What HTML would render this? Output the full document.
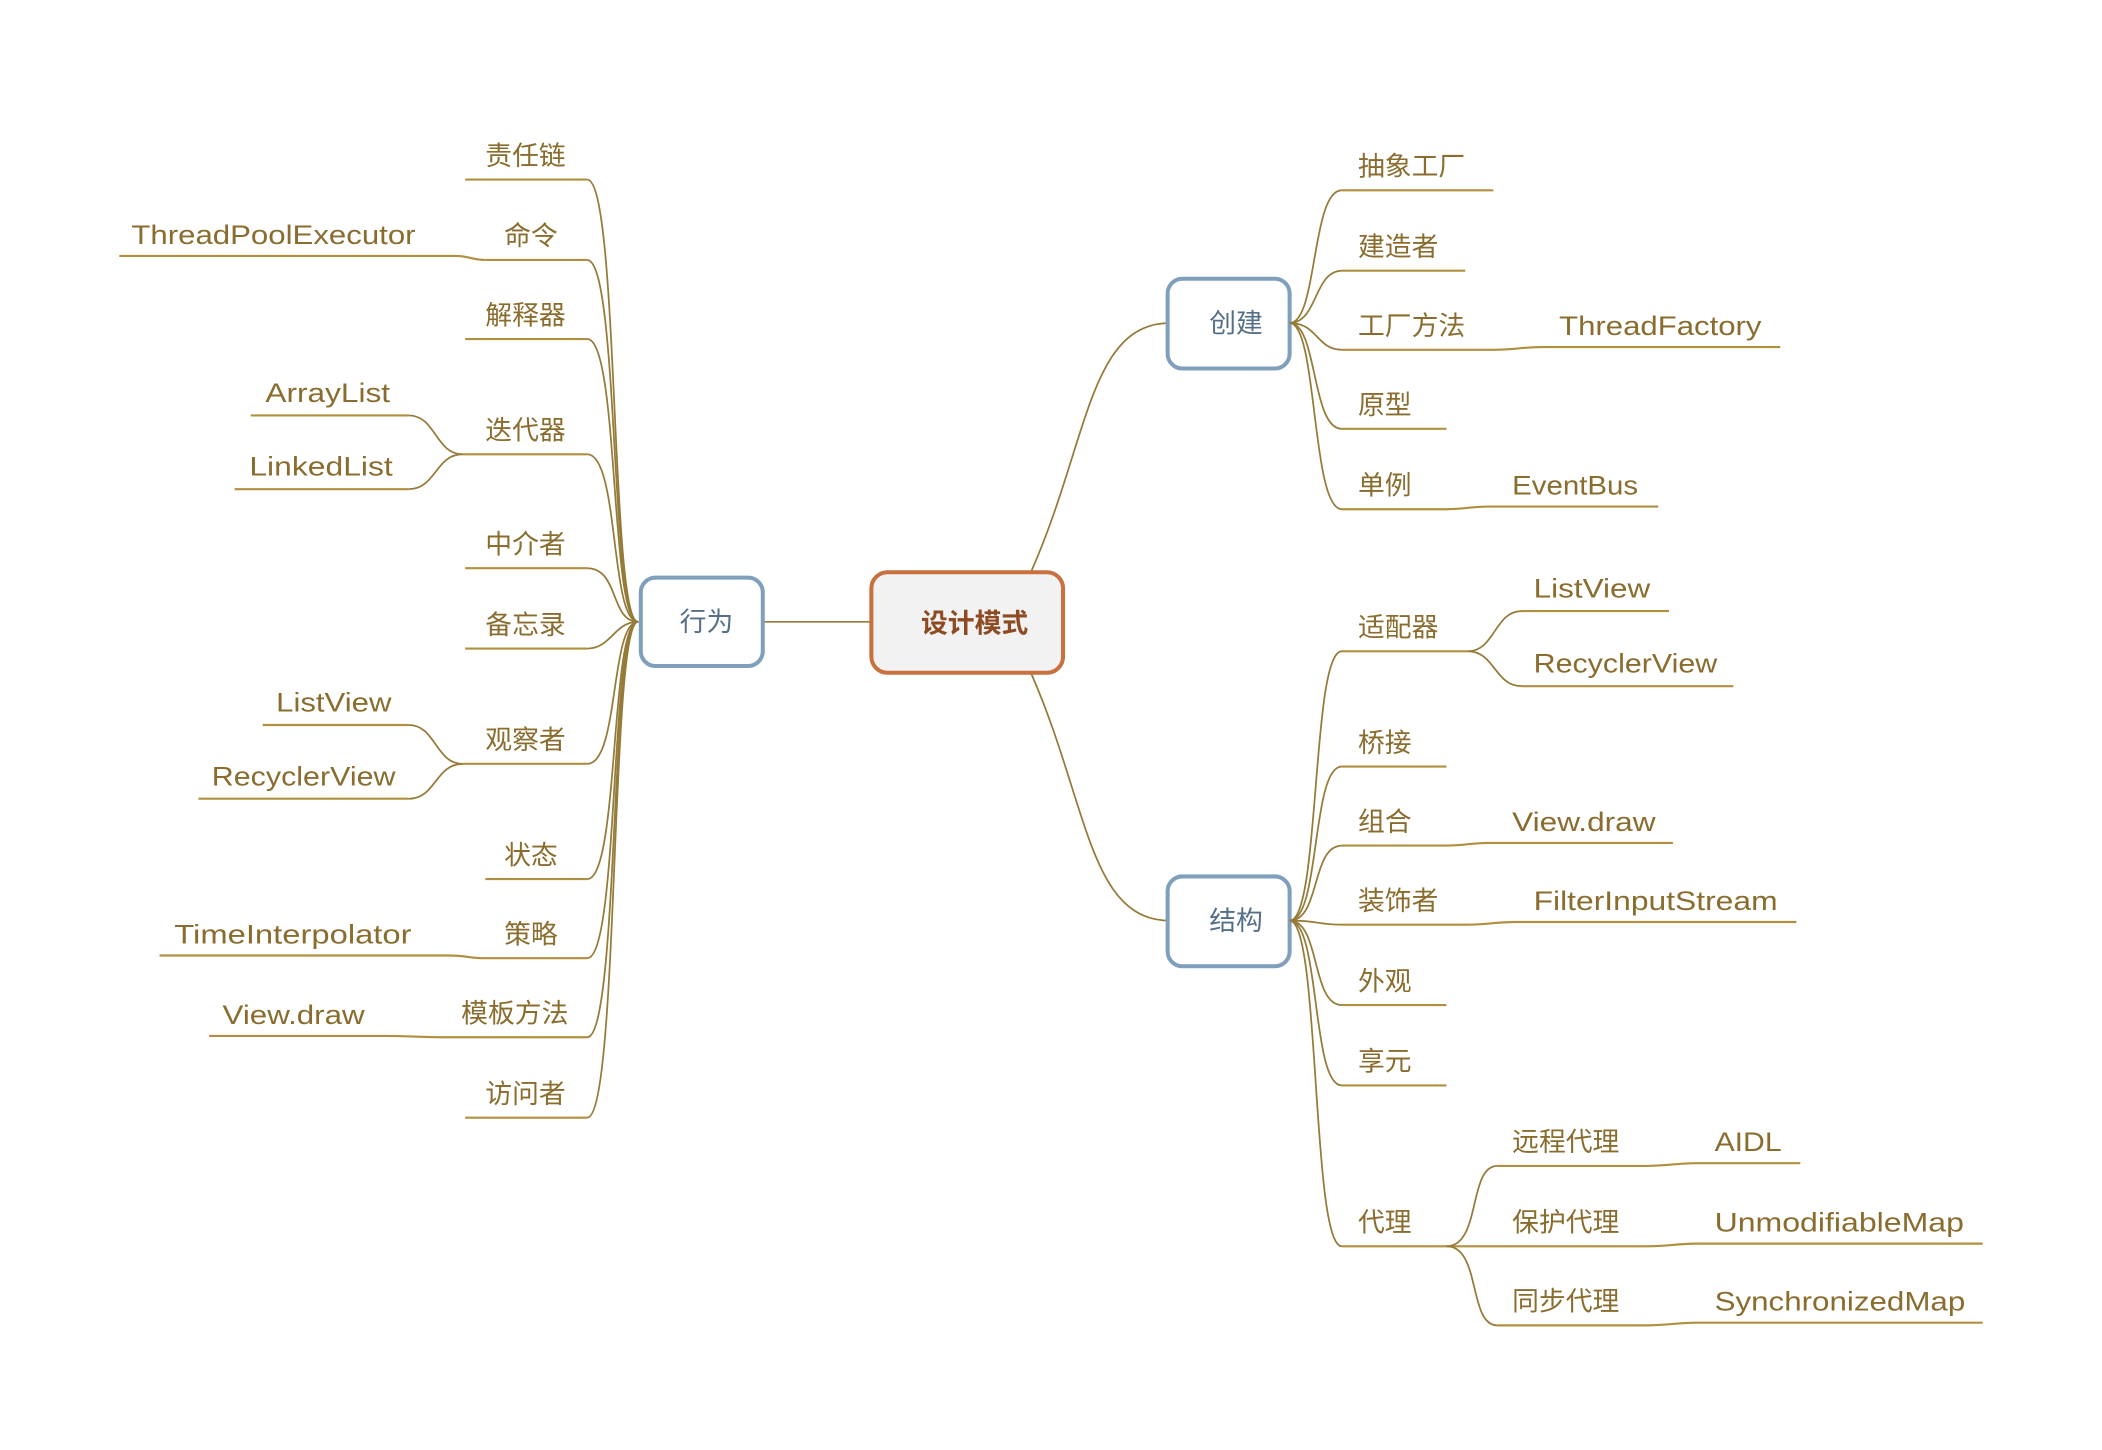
<!DOCTYPE html>
<html><head><meta charset="utf-8">
<style>
html,body{margin:0;padding:0;background:#fff;}
svg{display:block;}
text{font-family:"Liberation Sans","Noto Sans CJK SC",sans-serif;font-size:20px;fill:#8a6d2e;}
.ul{stroke:#b0903f;stroke-width:1.6;fill:none;}
.c{stroke:#957a38;stroke-width:1.3;fill:none;}
</style></head>
<body>
<svg width="2102" height="1450" viewBox="0 0 1568 1082" preserveAspectRatio="none" xmlns="http://www.w3.org/2000/svg">
<path class="c" d="M569,464 L650,464"/>
<path class="c" d="M769,427 C812,330 812,241 873,241"/>
<path class="c" d="M769,502 C812,600 812,687 873,687"/>

<g>
<path class="c" d="M476,464 C455,464 462,134 438,134"/>
<path class="c" d="M476,464 C455,464 462,194 438,194"/>
<path class="c" d="M476,464 C455,464 462,253 438,253"/>
<path class="c" d="M476,464 C455,464 462,339 438,339"/>
<path class="c" d="M476,464 C455,464 462,424 438,424"/>
<path class="c" d="M476,464 C458,464 456,484 438,484"/>
<path class="c" d="M476,464 C455,464 462,570 438,570"/>
<path class="c" d="M476,464 C455,464 462,656 438,656"/>
<path class="c" d="M476,464 C455,464 462,715 438,715"/>
<path class="c" d="M476,464 C455,464 462,774 438,774"/>
<path class="c" d="M476,464 C455,464 462,834 438,834"/>
</g>
<path class="ul" d="M347,134 H438"/><text x="422" y="123" text-anchor="end">责任链</text>
<path class="ul" d="M362,194 H438"/><text x="416" y="183" text-anchor="end">命令</text>
<path class="ul" d="M89,191 H340 C350,191 352,194 362,194"/><text x="98" y="182" textLength="212" lengthAdjust="spacingAndGlyphs">ThreadPoolExecutor</text>
<path class="ul" d="M347,253 H438"/><text x="422" y="242" text-anchor="end">解释器</text>
<path class="ul" d="M345,339 H438"/><text x="422" y="328" text-anchor="end">迭代器</text>
<path class="ul" d="M187,310 H305"/><path class="c" d="M305,310 C325,310 325,339 345,339"/><text x="198" y="300" textLength="93" lengthAdjust="spacingAndGlyphs">ArrayList</text>
<path class="ul" d="M175,365 H305"/><path class="c" d="M305,365 C325,365 325,339 345,339"/><text x="186" y="355" textLength="107" lengthAdjust="spacingAndGlyphs">LinkedList</text>
<path class="ul" d="M347,424 H438"/><text x="422" y="413" text-anchor="end">中介者</text>
<path class="ul" d="M347,484 H438"/><text x="422" y="473" text-anchor="end">备忘录</text>
<path class="ul" d="M345,570 H438"/><text x="422" y="559" text-anchor="end">观察者</text>
<path class="ul" d="M196,541 H305"/><path class="c" d="M305,541 C325,541 325,570 345,570"/><text x="206" y="531" textLength="86" lengthAdjust="spacingAndGlyphs">ListView</text>
<path class="ul" d="M148,596 H305"/><path class="c" d="M305,596 C325,596 325,570 345,570"/><text x="158" y="586" textLength="137" lengthAdjust="spacingAndGlyphs">RecyclerView</text>
<path class="ul" d="M362,656 H438"/><text x="416" y="645" text-anchor="end">状态</text>
<path class="ul" d="M362,715 H438"/><text x="416" y="704" text-anchor="end">策略</text>
<path class="ul" d="M119,713 H335 C348,713 350,715 362,715"/><text x="130" y="704" textLength="177" lengthAdjust="spacingAndGlyphs">TimeInterpolator</text>
<path class="ul" d="M330,774 H438"/><text x="424" y="763" text-anchor="end">模板方法</text>
<path class="ul" d="M156,773 H287 C305,773 312,774 330,774"/><text x="166" y="764" textLength="106" lengthAdjust="spacingAndGlyphs">View.draw</text>
<path class="ul" d="M347,834 H438"/><text x="422" y="823" text-anchor="end">访问者</text>

<rect x="478" y="431" width="91" height="66" rx="11" fill="#fff" stroke="#7f9fbd" stroke-width="3"/>
<text x="527" y="471" text-anchor="middle" style="fill:#566f88">行为</text>
<rect x="650" y="427" width="143" height="75" rx="12" fill="#f2f2f2" stroke="#c8703e" stroke-width="3"/>
<text x="727" y="472" text-anchor="middle" style="fill:#8e4a22;font-weight:bold">设计模式</text>
<rect x="871" y="208" width="91" height="67" rx="11" fill="#fff" stroke="#7f9fbd" stroke-width="3"/>
<text x="922" y="248" text-anchor="middle" style="fill:#566f88">创建</text>
<rect x="871" y="654" width="91" height="67" rx="11" fill="#fff" stroke="#7f9fbd" stroke-width="3"/>
<text x="922" y="694" text-anchor="middle" style="fill:#566f88">结构</text>

<path class="c" d="M962,241 C983,241 978,142 1001,142"/>
<path class="c" d="M962,241 C983,241 980,202 1001,202"/>
<path class="c" d="M962,241 C983,241 982,261 1001,261"/>
<path class="c" d="M962,241 C983,241 978,320 1001,320"/>
<path class="c" d="M962,241 C983,241 978,380 1001,380"/>
<path class="ul" d="M1001,142 H1114"/><text x="1013" y="131">抽象工厂</text>
<path class="ul" d="M1001,202 H1093"/><text x="1013" y="191">建造者</text>
<path class="ul" d="M1001,261 H1114 C1130,261 1135,259 1150,259 H1328"/><text x="1013" y="250">工厂方法</text><text x="1163" y="250" textLength="151" lengthAdjust="spacingAndGlyphs">ThreadFactory</text>
<path class="ul" d="M1001,320 H1079"/><text x="1013" y="309">原型</text>
<path class="ul" d="M1001,380 H1079 C1093,380 1097,378 1110,378 H1237"/><text x="1013" y="369">单例</text><text x="1128" y="369" textLength="94" lengthAdjust="spacingAndGlyphs">EventBus</text>

<path class="c" d="M962,687 C985,687 978,486 1001,486"/>
<path class="c" d="M962,687 C985,687 978,572 1001,572"/>
<path class="c" d="M962,687 C985,687 978,631 1001,631"/>
<path class="c" d="M962,687 C985,687 982,690 1001,690"/>
<path class="c" d="M962,687 C985,687 978,750 1001,750"/>
<path class="c" d="M962,687 C985,687 978,810 1001,810"/>
<path class="c" d="M962,687 C985,687 978,930 1001,930"/>
<path class="ul" d="M1001,486 H1095"/><text x="1013" y="475">适配器</text>
<path class="c" d="M1095,486 C1115,486 1115,456 1135,456"/><path class="ul" d="M1135,456 H1245"/><text x="1144" y="446" textLength="87" lengthAdjust="spacingAndGlyphs">ListView</text>
<path class="c" d="M1095,486 C1115,486 1115,512 1135,512"/><path class="ul" d="M1135,512 H1293"/><text x="1144" y="502" textLength="137" lengthAdjust="spacingAndGlyphs">RecyclerView</text>
<path class="ul" d="M1001,572 H1079"/><text x="1013" y="561">桥接</text>
<path class="ul" d="M1001,631 H1079 C1093,631 1097,629 1110,629 H1248"/><text x="1013" y="620">组合</text><text x="1128" y="620" textLength="107" lengthAdjust="spacingAndGlyphs">View.draw</text>
<path class="ul" d="M1001,690 H1095 C1110,690 1115,688 1130,688 H1340"/><text x="1013" y="679">装饰者</text><text x="1144" y="679" textLength="182" lengthAdjust="spacingAndGlyphs">FilterInputStream</text>
<path class="ul" d="M1001,750 H1079"/><text x="1013" y="739">外观</text>
<path class="ul" d="M1001,810 H1079"/><text x="1013" y="799">享元</text>
<path class="ul" d="M1001,930 H1117"/><text x="1013" y="919">代理</text>
<path class="c" d="M1079,930 C1105,930 1095,870 1117,870"/>
<path class="c" d="M1079,930 C1105,930 1095,989 1117,989"/>
<path class="ul" d="M1117,870 H1228 C1245,870 1250,868 1265,868 H1343"/><text x="1128" y="859">远程代理</text><text x="1279" y="859" textLength="50" lengthAdjust="spacingAndGlyphs">AIDL</text>
<path class="ul" d="M1117,930 H1228 C1245,930 1250,928 1265,928 H1479"/><text x="1128" y="919">保护代理</text><text x="1279" y="919" textLength="186" lengthAdjust="spacingAndGlyphs">UnmodifiableMap</text>
<path class="ul" d="M1117,989 H1228 C1245,989 1250,987 1265,987 H1479"/><text x="1128" y="978">同步代理</text><text x="1279" y="978" textLength="187" lengthAdjust="spacingAndGlyphs">SynchronizedMap</text>
</svg>
</body></html>
